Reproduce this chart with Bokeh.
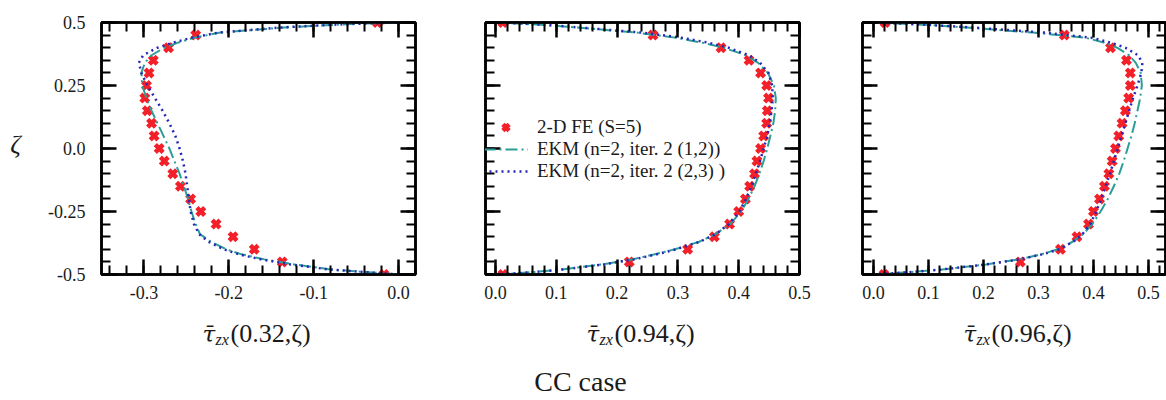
from bokeh.plotting import figure
from bokeh.models import (LinearAxis, FixedTicker, Range1d, Legend,
                          LegendItem, CustomJSTickFormatter)
from bokeh.core.properties import value
from bokeh.layouts import row, column
from bokeh.embed import file_html
from bokeh.resources import INLINE

# ---------------------------------------------------------------- data
# through-thickness coordinate of the FE sampling points
zeta_fe = [-0.50, -0.45, -0.40, -0.35, -0.30, -0.25, -0.20, -0.15, -0.10, -0.05,
           0.00, 0.05, 0.10, 0.15, 0.20, 0.25, 0.30, 0.35, 0.40, 0.45, 0.50]

# 2-D FE (S=5) transverse shear stress at x = 0.32, 0.94, 0.96
fe_032 = [-0.017, -0.137, -0.170, -0.195, -0.215, -0.233, -0.245, -0.257, -0.266, -0.276,
          -0.282, -0.288, -0.291, -0.296, -0.299, -0.297, -0.294, -0.289, -0.271, -0.239, -0.025]
fe_094 = [0.012, 0.220, 0.316, 0.360, 0.385, 0.400, 0.411, 0.418, 0.426, 0.430,
          0.436, 0.441, 0.446, 0.447, 0.449, 0.446, 0.436, 0.417, 0.371, 0.259, 0.012]
fe_096 = [0.019, 0.267, 0.340, 0.370, 0.391, 0.400, 0.411, 0.420, 0.428, 0.434,
          0.440, 0.446, 0.452, 0.458, 0.464, 0.467, 0.467, 0.460, 0.431, 0.347, 0.021]

# through-thickness coordinate of the EKM profiles
zeta_ekm = [-0.500, -0.495, -0.49, -0.48, -0.46, -0.44, -0.42, -0.40, -0.37, -0.34, -0.30,
            -0.25, -0.20, -0.15, -0.10, -0.05, 0.00, 0.05, 0.10, 0.15, 0.20, 0.25,
            0.30, 0.34, 0.37, 0.40, 0.42, 0.44, 0.46, 0.48, 0.49, 0.495, 0.500]

# EKM (n=2, iter. 2 (1,2))
ekm12_032 = [0.0, -0.020, -0.040, -0.080, -0.123, -0.158, -0.185, -0.203, -0.221, -0.234, -0.239,
             -0.244, -0.248, -0.253, -0.258, -0.264, -0.270, -0.277, -0.284, -0.291, -0.297, -0.302,
             -0.303, -0.299, -0.291, -0.276, -0.260, -0.240, -0.210, -0.135, -0.080, -0.050, 0.0]
ekm12_094 = [0.0, 0.035, 0.065, 0.110, 0.175, 0.225, 0.262, 0.295, 0.335, 0.362, 0.386,
             0.404, 0.416, 0.426, 0.434, 0.441, 0.447, 0.452, 0.457, 0.460, 0.461, 0.458,
             0.448, 0.432, 0.412, 0.375, 0.340, 0.295, 0.232, 0.135, 0.080, 0.045, 0.0]
ekm12_096 = [0.0, 0.035, 0.070, 0.125, 0.205, 0.265, 0.305, 0.335, 0.362, 0.381, 0.398,
             0.413, 0.426, 0.437, 0.447, 0.455, 0.462, 0.469, 0.475, 0.480, 0.485, 0.488,
             0.486, 0.477, 0.465, 0.443, 0.420, 0.385, 0.290, 0.170, 0.100, 0.055, 0.0]

# EKM (n=2, iter. 2 (2,3))
ekm23_032 = [0.0, -0.020, -0.042, -0.082, -0.127, -0.162, -0.188, -0.206, -0.224, -0.235, -0.241,
             -0.245, -0.247, -0.249, -0.251, -0.254, -0.258, -0.263, -0.270, -0.278, -0.287, -0.296,
             -0.303, -0.306, -0.301, -0.284, -0.266, -0.243, -0.212, -0.140, -0.085, -0.050, 0.0]
ekm23_094 = [0.0, 0.035, 0.065, 0.110, 0.178, 0.228, 0.265, 0.297, 0.336, 0.362, 0.384,
             0.401, 0.412, 0.421, 0.428, 0.435, 0.441, 0.447, 0.451, 0.454, 0.456, 0.455,
             0.449, 0.435, 0.417, 0.383, 0.350, 0.305, 0.240, 0.140, 0.085, 0.048, 0.0]
ekm23_096 = [0.0, 0.035, 0.070, 0.125, 0.205, 0.265, 0.307, 0.338, 0.363, 0.380, 0.394,
             0.405, 0.414, 0.422, 0.430, 0.437, 0.444, 0.451, 0.458, 0.465, 0.472, 0.480,
             0.487, 0.489, 0.481, 0.458, 0.432, 0.395, 0.310, 0.180, 0.105, 0.058, 0.0]

x_positions = ["0.32", "0.94", "0.96"]
legend_labels = ["2-D FE (S=5)", "EKM (n=2, iter. 2 (1,2))", "EKM (n=2, iter. 2 (2,3) )"]
case_title = "CC case"

x_major = [[-0.3, -0.2, -0.1, 0.0],
           [0.0, 0.1, 0.2, 0.3, 0.4, 0.5],
           [0.0, 0.1, 0.2, 0.3, 0.4, 0.5]]
y_major = [-0.5, -0.25, 0.0, 0.25, 0.5]

# ---------------------------------------------------------------- style
SERIF = "Liberation Serif"
MATH = "DejaVu Serif"
RED = "#f3202a"
TEAL = "#2a9d96"
BLUE = "#2626b8"
INK = "#1a1a1a"

FMT_X = CustomJSTickFormatter(code="return tick.toFixed(1);")
FMT_Y = CustomJSTickFormatter(code="""
    if (Math.abs(tick * 10 - Math.round(tick * 10)) < 1e-6) { return tick.toFixed(1); }
    return tick.toFixed(2);
""")
FMT_NONE = CustomJSTickFormatter(code="return '';")

TOP, FRAME_H, ROW_H, PAGE_H, PAGE_W = 22, 252, 306, 400, 1166


def minor_grid(lo, hi, step):
    n = int(round((hi - lo) / step))
    return [round(lo + i * step, 4) for i in range(n + 1)]


def style_axis(ax):
    ax.axis_line_color = "black"
    ax.axis_line_width = 2.5
    ax.major_tick_in = 15
    ax.major_tick_out = 0
    ax.minor_tick_in = 9
    ax.minor_tick_out = 0
    ax.major_tick_line_width = 2.5
    ax.minor_tick_line_width = 2
    ax.major_tick_line_color = "black"
    ax.minor_tick_line_color = "black"
    ax.major_label_text_font = SERIF
    ax.major_label_text_font_size = "18px"
    ax.major_label_text_color = INK


def blank_canvas(width, height, x_range, y_range):
    """A figure without axes whose data space equals page pixels (for free text)."""
    c = figure(width=width, height=height, x_range=Range1d(*x_range), y_range=Range1d(*y_range),
               output_backend="svg", toolbar_location=None,
               x_axis_location=None, y_axis_location=None,
               min_border=0)
    c.outline_line_color = None
    c.xgrid.visible = False
    c.ygrid.visible = False
    return c


def make_panel(idx, width, border_left, border_right, xr, fe, e12, e23, y_labels):
    p = figure(width=width, height=ROW_H, x_range=Range1d(*xr), y_range=Range1d(-0.5, 0.5),
               output_backend="svg", toolbar_location=None,
               x_axis_location=None, y_axis_location=None,
               min_border_left=border_left, min_border_right=border_right,
               min_border_top=TOP, min_border_bottom=ROW_H - TOP - FRAME_H)
    p.outline_line_color = "black"
    p.outline_line_width = 2.5
    p.xgrid.visible = False
    p.ygrid.visible = False

    xt = FixedTicker(ticks=x_major[idx], minor_ticks=minor_grid(-0.36, 0.56, 0.02))
    yt = FixedTicker(ticks=y_major, minor_ticks=minor_grid(-0.5, 0.5, 0.05))

    below = LinearAxis(ticker=xt, formatter=FMT_X, major_label_standoff=11)
    above = LinearAxis(ticker=xt, formatter=FMT_NONE, major_label_standoff=0)
    left = LinearAxis(ticker=yt, formatter=FMT_Y if y_labels else FMT_NONE,
                      major_label_standoff=16 if y_labels else 0)
    right = LinearAxis(ticker=yt, formatter=FMT_NONE, major_label_standoff=0)
    for ax, side in ((below, "below"), (above, "above"), (left, "left"), (right, "right")):
        style_axis(ax)
        p.add_layout(ax, side)

    r_fe = p.scatter(fe, zeta_fe, marker="x", size=11, line_width=4.5, line_color=RED)
    r12 = p.line(e12, zeta_ekm, line_color=TEAL, line_width=2, line_dash="12 4 2 4")
    r23 = p.line(e23, zeta_ekm, line_color=BLUE, line_width=2.5, line_dash="2 4")
    return p, (r_fe, r12, r23)


# left strip carrying the zeta axis title
strip = blank_canvas(30, ROW_H, (0, 30), (ROW_H, 0))
strip.text(x=[15], y=[TOP + FRAME_H / 2], text=["ζ"], text_font=value(SERIF),
           text_font_style="italic", text_font_size=value("26px"), text_color=INK,
           text_align="center", text_baseline="middle")

p1, _ = make_panel(0, 420, 71, 35, (-0.35, 0.02), fe_032, ekm12_032, ekm23_032, True)
p2, rs2 = make_panel(1, 380, 35, 31, (-0.0165, 0.5), fe_094, ekm12_094, ekm23_094, False)
p3, _ = make_panel(2, 336, 32, 1, (-0.02, 0.531), fe_096, ekm12_096, ekm23_096, False)

legend = Legend(items=[LegendItem(label=legend_labels[i], renderers=[rs2[i]]) for i in range(3)],
                location=(-2, 92), orientation="vertical",
                glyph_width=45, glyph_height=22, label_height=22, label_standoff=9,
                spacing=0, padding=0, margin=0,
                border_line_alpha=0, background_fill_alpha=0,
                label_text_font=SERIF, label_text_font_size="19px", label_text_color=INK)
p2.add_layout(legend)

# bottom strip: the three abscissa titles and the case caption
foot = blank_canvas(PAGE_W, PAGE_H - ROW_H, (0, PAGE_W), (PAGE_H, ROW_H))
centres = [258, 642, 1019]
x0 = [c - 56 for c in centres]
foot.text(x=x0, y=[333] * 3, text=["τ̄"] * 3, text_font=value(MATH),
          text_font_style="italic", text_font_size=value("23px"), text_color=INK,
          text_align="left", text_baseline="alphabetic")
foot.text(x=[v + 13 for v in x0], y=[339] * 3, text=["zx"] * 3, text_font=value(SERIF),
          text_font_style="italic", text_font_size=value("16px"), text_color=INK,
          text_align="left", text_baseline="alphabetic")
foot.text(x=[v + 28 for v in x0], y=[333] * 3, text=["(" + s + ",ζ)" for s in x_positions],
          text_font=value(SERIF), text_font_size=value("26px"), text_color=INK,
          text_align="left", text_baseline="alphabetic")
foot.text(x=[580], y=[381], text=[case_title], text_font=value(SERIF),
          text_font_size=value("28px"), text_color=INK,
          text_align="center", text_baseline="middle")

layout = column(row(strip, p1, p2, p3, spacing=0), foot, spacing=0)
open("out.html", "w").write(file_html(layout, INLINE))
